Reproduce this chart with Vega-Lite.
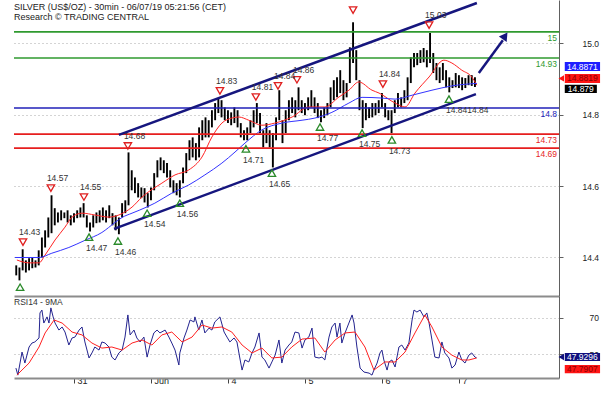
{
"$schema":"https://vega.github.io/schema/vega-lite/v6.json",
"padding":{"left":12,"top":0,"right":0,"bottom":0},
"background":"white",
"spacing":0,
"config":{"view":{"stroke":null},"font":"Liberation Sans","concat":{"spacing":0}},
"datasets":{
"candles":[
{"t":6,"p":14.350,"p2":14.378},{"t":7,"p":14.336,"p2":14.372},{"t":8,"p":14.364,"p2":14.423},{"t":9,"p":14.358,"p2":14.392},{"t":10,"p":14.364,"p2":14.398},
{"t":11,"p":14.370,"p2":14.400},{"t":12,"p":14.372,"p2":14.392},{"t":13,"p":14.378,"p2":14.420},{"t":14,"p":14.400,"p2":14.456},{"t":15,"p":14.428,"p2":14.476},
{"t":16,"p":14.456,"p2":14.512},{"t":17,"p":14.468,"p2":14.574},{"t":18,"p":14.490,"p2":14.538},{"t":19,"p":14.498,"p2":14.526},{"t":20,"p":14.504,"p2":14.532},
{"t":21,"p":14.510,"p2":14.526},{"t":22,"p":14.498,"p2":14.532},{"t":23,"p":14.490,"p2":14.518},{"t":24,"p":14.498,"p2":14.524},{"t":25,"p":14.510,"p2":14.532},
{"t":26,"p":14.512,"p2":14.540},{"t":27,"p":14.512,"p2":14.552},{"t":28,"p":14.484,"p2":14.518},{"t":29,"p":14.473,"p2":14.498},{"t":30,"p":14.484,"p2":14.518},
{"t":31,"p":14.496,"p2":14.526},{"t":32,"p":14.498,"p2":14.532},{"t":33,"p":14.504,"p2":14.540},{"t":34,"p":14.498,"p2":14.532},{"t":35,"p":14.510,"p2":14.546},
{"t":36,"p":14.490,"p2":14.524},{"t":37,"p":14.476,"p2":14.518},{"t":38,"p":14.465,"p2":14.512},{"t":39,"p":14.512,"p2":14.552},{"t":40,"p":14.524,"p2":14.560},
{"t":41,"p":14.546,"p2":14.694},{"t":42,"p":14.588,"p2":14.644},{"t":43,"p":14.580,"p2":14.624},{"t":44,"p":14.568,"p2":14.608},{"t":45,"p":14.566,"p2":14.596},
{"t":46,"p":14.554,"p2":14.594},{"t":47,"p":14.540,"p2":14.580},{"t":48,"p":14.560,"p2":14.596},{"t":49,"p":14.588,"p2":14.636},{"t":50,"p":14.624,"p2":14.672},
{"t":51,"p":14.644,"p2":14.680},{"t":52,"p":14.636,"p2":14.672},{"t":53,"p":14.624,"p2":14.664},{"t":54,"p":14.596,"p2":14.644},{"t":55,"p":14.580,"p2":14.616},
{"t":56,"p":14.574,"p2":14.608},{"t":57,"p":14.568,"p2":14.616},{"t":58,"p":14.608,"p2":14.652},{"t":59,"p":14.636,"p2":14.692},{"t":60,"p":14.672,"p2":14.728},
{"t":61,"p":14.680,"p2":14.736},{"t":62,"p":14.672,"p2":14.720},{"t":63,"p":14.680,"p2":14.764},{"t":64,"p":14.728,"p2":14.784},{"t":65,"p":14.736,"p2":14.792},
{"t":66,"p":14.736,"p2":14.784},{"t":67,"p":14.764,"p2":14.812},{"t":68,"p":14.784,"p2":14.832},{"t":69,"p":14.804,"p2":14.846},{"t":70,"p":14.792,"p2":14.840},
{"t":71,"p":14.784,"p2":14.820},{"t":72,"p":14.776,"p2":14.812},{"t":73,"p":14.770,"p2":14.806},{"t":74,"p":14.776,"p2":14.820},{"t":75,"p":14.764,"p2":14.812},
{"t":76,"p":14.736,"p2":14.776},{"t":77,"p":14.728,"p2":14.756},{"t":78,"p":14.728,"p2":14.764},{"t":79,"p":14.748,"p2":14.784},{"t":80,"p":14.764,"p2":14.812},
{"t":81,"p":14.776,"p2":14.832},{"t":82,"p":14.748,"p2":14.804},{"t":83,"p":14.708,"p2":14.756},{"t":84,"p":14.720,"p2":14.776},{"t":85,"p":14.708,"p2":14.756},
{"t":86,"p":14.652,"p2":14.748},{"t":87,"p":14.728,"p2":14.792},{"t":88,"p":14.784,"p2":14.868},{"t":89,"p":14.720,"p2":14.784},{"t":90,"p":14.748,"p2":14.812},
{"t":91,"p":14.784,"p2":14.840},{"t":92,"p":14.804,"p2":14.848},{"t":93,"p":14.792,"p2":14.840},{"t":94,"p":14.812,"p2":14.876},{"t":95,"p":14.804,"p2":14.840},
{"t":96,"p":14.798,"p2":14.832},{"t":97,"p":14.812,"p2":14.848},{"t":98,"p":14.820,"p2":14.868},{"t":99,"p":14.804,"p2":14.848},{"t":100,"p":14.790,"p2":14.832},
{"t":101,"p":14.778,"p2":14.812},{"t":102,"p":14.790,"p2":14.820},{"t":103,"p":14.798,"p2":14.832},{"t":104,"p":14.820,"p2":14.876},{"t":105,"p":14.840,"p2":14.896},
{"t":106,"p":14.848,"p2":14.904},{"t":107,"p":14.860,"p2":14.924},{"t":108,"p":14.840,"p2":14.896},{"t":109,"p":14.848,"p2":14.888},{"t":110,"p":14.888,"p2":14.988},
{"t":111,"p":14.944,"p2":15.058},{"t":112,"p":14.896,"p2":14.980},{"t":113,"p":14.812,"p2":14.896},{"t":114,"p":14.762,"p2":14.840},{"t":115,"p":14.784,"p2":14.832},
{"t":116,"p":14.790,"p2":14.820},{"t":117,"p":14.792,"p2":14.832},{"t":118,"p":14.798,"p2":14.832},{"t":119,"p":14.804,"p2":14.840},{"t":120,"p":14.820,"p2":14.860},
{"t":121,"p":14.792,"p2":14.832},{"t":122,"p":14.784,"p2":14.812},{"t":123,"p":14.748,"p2":14.812},{"t":124,"p":14.804,"p2":14.840},{"t":125,"p":14.820,"p2":14.860},
{"t":126,"p":14.820,"p2":14.848},{"t":127,"p":14.832,"p2":14.868},{"t":128,"p":14.840,"p2":14.904},{"t":129,"p":14.888,"p2":14.960},{"t":130,"p":14.932,"p2":14.972},
{"t":131,"p":14.938,"p2":14.972},{"t":132,"p":14.944,"p2":14.980},{"t":133,"p":14.946,"p2":14.986},{"t":134,"p":14.932,"p2":14.980},{"t":135,"p":14.944,"p2":15.028},
{"t":136,"p":14.916,"p2":14.972},{"t":137,"p":14.896,"p2":14.944},{"t":138,"p":14.888,"p2":14.932},{"t":139,"p":14.896,"p2":14.944},{"t":140,"p":14.876,"p2":14.924},
{"t":141,"p":14.862,"p2":14.904},{"t":142,"p":14.874,"p2":14.896},{"t":143,"p":14.876,"p2":14.916},{"t":144,"p":14.874,"p2":14.910},{"t":145,"p":14.868,"p2":14.904},
{"t":146,"p":14.874,"p2":14.902},{"t":147,"p":14.882,"p2":14.910},{"t":148,"p":14.880,"p2":14.910},{"t":149,"p":14.877,"p2":14.904}
],
"ma":[
{"t":6.2,"p":14.393,"s":"fast"},{"t":10.0,"p":14.385,"s":"fast"},{"t":13.1,"p":14.385,"s":"fast"},{"t":15.0,"p":14.407,"s":"fast"},{"t":18.1,"p":14.449,"s":"fast"},
{"t":21.2,"p":14.485,"s":"fast"},{"t":23.4,"p":14.513,"s":"fast"},{"t":26.5,"p":14.524,"s":"fast"},{"t":30.5,"p":14.519,"s":"fast"},{"t":34.9,"p":14.513,"s":"fast"},
{"t":38.0,"p":14.519,"s":"fast"},{"t":42.1,"p":14.541,"s":"fast"},{"t":45.2,"p":14.569,"s":"fast"},{"t":51.4,"p":14.608,"s":"fast"},{"t":55.5,"p":14.631,"s":"fast"},
{"t":59.8,"p":14.645,"s":"fast"},{"t":63.9,"p":14.681,"s":"fast"},{"t":67.0,"p":14.737,"s":"fast"},{"t":70.1,"p":14.776,"s":"fast"},{"t":73.2,"p":14.790,"s":"fast"},
{"t":75.4,"p":14.793,"s":"fast"},{"t":78.5,"p":14.784,"s":"fast"},{"t":82.6,"p":14.770,"s":"fast"},{"t":86.6,"p":14.776,"s":"fast"},{"t":92.0,"p":14.793,"s":"fast"},
{"t":97.2,"p":14.821,"s":"fast"},{"t":102.2,"p":14.821,"s":"fast"},{"t":106.6,"p":14.849,"s":"fast"},{"t":109.7,"p":14.868,"s":"fast"},{"t":112.8,"p":14.891,"s":"fast"},
{"t":116.9,"p":14.868,"s":"fast"},{"t":119.1,"p":14.860,"s":"fast"},{"t":124.1,"p":14.832,"s":"fast"},{"t":127.2,"p":14.821,"s":"fast"},{"t":130.3,"p":14.860,"s":"fast"},
{"t":134.7,"p":14.905,"s":"fast"},{"t":139.3,"p":14.952,"s":"fast"},{"t":141.8,"p":14.944,"s":"fast"},{"t":144.9,"p":14.924,"s":"fast"},{"t":148.0,"p":14.905,"s":"fast"},
{"t":149.6,"p":14.882,"s":"fast"},
{"t":5.6,"p":14.400,"s":"slow"},{"t":13.1,"p":14.400,"s":"slow"},{"t":17.1,"p":14.412,"s":"slow"},{"t":22.4,"p":14.428,"s":"slow"},{"t":27.4,"p":14.448,"s":"slow"},
{"t":32.7,"p":14.470,"s":"slow"},{"t":36.8,"p":14.498,"s":"slow"},{"t":39.0,"p":14.512,"s":"slow"},{"t":42.1,"p":14.524,"s":"slow"},{"t":44.3,"p":14.532,"s":"slow"},
{"t":49.2,"p":14.552,"s":"slow"},{"t":54.5,"p":14.580,"s":"slow"},{"t":59.8,"p":14.603,"s":"slow"},{"t":64.8,"p":14.631,"s":"slow"},{"t":70.1,"p":14.664,"s":"slow"},
{"t":74.2,"p":14.695,"s":"slow"},{"t":77.3,"p":14.720,"s":"slow"},{"t":82.6,"p":14.757,"s":"slow"},{"t":88.8,"p":14.776,"s":"slow"},{"t":95.1,"p":14.784,"s":"slow"},
{"t":99.1,"p":14.790,"s":"slow"},{"t":104.4,"p":14.806,"s":"slow"},{"t":109.7,"p":14.832,"s":"slow"},{"t":113.8,"p":14.848,"s":"slow"},{"t":120.0,"p":14.846,"s":"slow"},
{"t":124.1,"p":14.843,"s":"slow"},{"t":129.4,"p":14.854,"s":"slow"},{"t":135.6,"p":14.868,"s":"slow"},{"t":141.8,"p":14.880,"s":"slow"},{"t":149.6,"p":14.887,"s":"slow"}
],
"levels":[
{"t":175.2,"t2":5.3,"p":15.031,"kind":"resistance","label":"15"},
{"t":175.2,"t2":5.3,"p":14.958,"kind":"resistance","label":"14.93"},
{"t":175.2,"t2":5.3,"p":14.818,"kind":"pivot","label":"14.8"},
{"t":175.2,"t2":5.3,"p":14.745,"kind":"support","label":"14.73"},
{"t":175.2,"t2":5.3,"p":14.706,"kind":"support","label":"14.69"}
],
"lines":[
{"t":38.0,"t2":149.6,"p":14.743,"p2":15.112},
{"t":36.5,"t2":149.3,"p":14.480,"p2":14.857},
{"t":150.2,"t2":157.7,"p":14.916,"p2":15.008}
],
"arrowhead":[{"t":158.4,"p":15.020}],
"markers":[
{"t":8.1,"p":14.443,"dir":"high","label":"14.43"},
{"t":16.8,"p":14.594,"dir":"high","label":"14.57"},
{"t":27.1,"p":14.569,"dir":"high","label":"14.55"},
{"t":40.8,"p":14.712,"dir":"high","label":"14.68"},
{"t":69.5,"p":14.866,"dir":"high","label":"14.83"},
{"t":80.7,"p":14.849,"dir":"high","label":"14.81"},
{"t":87.6,"p":14.880,"dir":"high","label":"14.84"},
{"t":93.5,"p":14.897,"dir":"high","label":"14.86"},
{"t":111.0,"p":15.092,"dir":"high","label":""},
{"t":120.3,"p":14.885,"dir":"high","label":"14.84"},
{"t":134.7,"p":15.050,"dir":"high","label":"15.03"},
{"t":7.2,"p":14.317,"dir":"low","label":""},
{"t":28.7,"p":14.457,"dir":"low","label":"14.47"},
{"t":37.7,"p":14.446,"dir":"low","label":"14.46"},
{"t":46.8,"p":14.524,"dir":"low","label":"14.54"},
{"t":57.0,"p":14.552,"dir":"low","label":"14.56"},
{"t":77.6,"p":14.704,"dir":"low","label":"14.71"},
{"t":85.7,"p":14.636,"dir":"low","label":"14.65"},
{"t":100.7,"p":14.765,"dir":"low","label":"14.77"},
{"t":113.8,"p":14.748,"dir":"low","label":"14.75"},
{"t":123.1,"p":14.729,"dir":"low","label":"14.73"},
{"t":140.9,"p":14.843,"dir":"low","label":"14.8414.84"}
],
"pbox":[
{"t":177.0,"t2":188.0,"p":14.922,"p2":14.947,"s":"MA slow"},
{"t":177.0,"t2":188.0,"p":14.888,"p2":14.913,"s":"MA fast"},
{"t":177.0,"t2":187.0,"p":14.860,"p2":14.883,"s":"Last"}
],
"ptext":[
{"t":182.5,"p":14.934,"s":"MA slow","label":"14.8871"},
{"t":182.5,"p":14.901,"s":"MA fast","label":"14.8819"},
{"t":182.0,"p":14.871,"s":"Last","label":"14.879"}
],
"parrow":[{"t":175.9,"p":14.901,"s":"MA fast"}],
"rsi":[
{"t":5.9,"r":42.2,"s":"RSI"},{"t":6.5,"r":38.3,"s":"RSI"},{"t":7.8,"r":51.1,"s":"RSI"},{"t":8.7,"r":45.0,"s":"RSI"},{"t":10.0,"r":53.9,"s":"RSI"},
{"t":10.9,"r":56.1,"s":"RSI"},{"t":11.8,"r":56.7,"s":"RSI"},{"t":13.1,"r":58.9,"s":"RSI"},{"t":13.4,"r":72.8,"s":"RSI"},{"t":14.0,"r":74.4,"s":"RSI"},
{"t":14.6,"r":67.2,"s":"RSI"},{"t":15.6,"r":70.6,"s":"RSI"},{"t":16.2,"r":67.2,"s":"RSI"},{"t":16.8,"r":75.6,"s":"RSI"},{"t":17.5,"r":70.6,"s":"RSI"},
{"t":18.1,"r":67.2,"s":"RSI"},{"t":19.3,"r":63.3,"s":"RSI"},{"t":20.3,"r":65.0,"s":"RSI"},{"t":21.2,"r":62.2,"s":"RSI"},{"t":22.4,"r":55.0,"s":"RSI"},
{"t":23.4,"r":58.9,"s":"RSI"},{"t":24.3,"r":59.4,"s":"RSI"},{"t":25.6,"r":63.3,"s":"RSI"},{"t":26.5,"r":65.0,"s":"RSI"},{"t":27.4,"r":56.7,"s":"RSI"},
{"t":28.7,"r":47.8,"s":"RSI"},{"t":29.6,"r":50.6,"s":"RSI"},{"t":30.5,"r":53.9,"s":"RSI"},{"t":31.8,"r":52.2,"s":"RSI"},{"t":32.7,"r":56.7,"s":"RSI"},
{"t":33.7,"r":56.1,"s":"RSI"},{"t":34.9,"r":53.9,"s":"RSI"},{"t":35.8,"r":48.3,"s":"RSI"},{"t":36.8,"r":46.7,"s":"RSI"},{"t":38.0,"r":50.6,"s":"RSI"},
{"t":39.0,"r":52.2,"s":"RSI"},{"t":39.9,"r":59.4,"s":"RSI"},{"t":40.8,"r":71.7,"s":"RSI"},{"t":41.5,"r":60.6,"s":"RSI"},{"t":42.7,"r":63.3,"s":"RSI"},
{"t":43.6,"r":58.9,"s":"RSI"},{"t":44.6,"r":56.7,"s":"RSI"},{"t":45.8,"r":59.4,"s":"RSI"},{"t":46.8,"r":48.3,"s":"RSI"},{"t":47.7,"r":55.0,"s":"RSI"},
{"t":48.9,"r":61.7,"s":"RSI"},{"t":49.9,"r":63.3,"s":"RSI"},{"t":50.8,"r":61.7,"s":"RSI"},{"t":52.4,"r":63.3,"s":"RSI"},{"t":53.6,"r":59.4,"s":"RSI"},
{"t":54.5,"r":56.1,"s":"RSI"},{"t":55.5,"r":52.2,"s":"RSI"},{"t":56.7,"r":43.9,"s":"RSI"},{"t":57.0,"r":50.6,"s":"RSI"},{"t":58.3,"r":58.9,"s":"RSI"},
{"t":59.2,"r":63.3,"s":"RSI"},{"t":60.2,"r":68.9,"s":"RSI"},{"t":61.4,"r":67.8,"s":"RSI"},{"t":61.7,"r":70.6,"s":"RSI"},{"t":62.9,"r":63.3,"s":"RSI"},
{"t":63.9,"r":68.9,"s":"RSI"},{"t":64.8,"r":61.7,"s":"RSI"},{"t":66.1,"r":64.4,"s":"RSI"},{"t":67.0,"r":63.3,"s":"RSI"},{"t":67.9,"r":67.8,"s":"RSI"},
{"t":69.5,"r":70.6,"s":"RSI"},{"t":70.8,"r":62.2,"s":"RSI"},{"t":71.7,"r":59.4,"s":"RSI"},{"t":72.6,"r":56.7,"s":"RSI"},{"t":73.9,"r":58.9,"s":"RSI"},
{"t":74.8,"r":56.7,"s":"RSI"},{"t":75.7,"r":47.8,"s":"RSI"},{"t":76.4,"r":41.1,"s":"RSI"},{"t":77.3,"r":46.7,"s":"RSI"},{"t":78.5,"r":45.6,"s":"RSI"},
{"t":79.5,"r":50.6,"s":"RSI"},{"t":80.4,"r":53.9,"s":"RSI"},{"t":81.7,"r":61.7,"s":"RSI"},{"t":82.6,"r":48.3,"s":"RSI"},{"t":83.5,"r":46.7,"s":"RSI"},
{"t":84.8,"r":42.2,"s":"RSI"},{"t":85.7,"r":45.6,"s":"RSI"},{"t":86.7,"r":49.4,"s":"RSI"},{"t":87.9,"r":57.8,"s":"RSI"},{"t":88.8,"r":45.0,"s":"RSI"},
{"t":89.8,"r":52.2,"s":"RSI"},{"t":91.0,"r":55.0,"s":"RSI"},{"t":91.9,"r":56.7,"s":"RSI"},{"t":92.9,"r":62.2,"s":"RSI"},{"t":94.1,"r":61.7,"s":"RSI"},
{"t":95.1,"r":53.3,"s":"RSI"},{"t":96.0,"r":57.8,"s":"RSI"},{"t":97.2,"r":59.4,"s":"RSI"},{"t":98.2,"r":64.4,"s":"RSI"},{"t":99.1,"r":48.3,"s":"RSI"},
{"t":100.4,"r":47.8,"s":"RSI"},{"t":101.3,"r":48.3,"s":"RSI"},{"t":102.2,"r":46.7,"s":"RSI"},{"t":103.5,"r":59.4,"s":"RSI"},{"t":104.4,"r":65.0,"s":"RSI"},
{"t":105.4,"r":67.2,"s":"RSI"},{"t":106.0,"r":59.4,"s":"RSI"},{"t":106.9,"r":67.2,"s":"RSI"},{"t":107.5,"r":56.1,"s":"RSI"},{"t":108.5,"r":61.7,"s":"RSI"},
{"t":109.7,"r":67.2,"s":"RSI"},{"t":110.7,"r":71.7,"s":"RSI"},{"t":111.3,"r":67.2,"s":"RSI"},{"t":112.2,"r":53.9,"s":"RSI"},{"t":113.2,"r":42.2,"s":"RSI"},
{"t":114.4,"r":40.0,"s":"RSI"},{"t":116.0,"r":39.4,"s":"RSI"},{"t":116.9,"r":38.3,"s":"RSI"},{"t":117.5,"r":41.1,"s":"RSI"},{"t":118.5,"r":45.0,"s":"RSI"},
{"t":119.4,"r":50.6,"s":"RSI"},{"t":120.0,"r":52.2,"s":"RSI"},{"t":120.6,"r":46.7,"s":"RSI"},{"t":121.6,"r":41.1,"s":"RSI"},{"t":122.2,"r":45.6,"s":"RSI"},
{"t":123.1,"r":46.7,"s":"RSI"},{"t":124.1,"r":42.8,"s":"RSI"},{"t":125.3,"r":53.9,"s":"RSI"},{"t":126.2,"r":55.0,"s":"RSI"},{"t":127.2,"r":52.2,"s":"RSI"},
{"t":128.4,"r":56.1,"s":"RSI"},{"t":129.4,"r":68.9,"s":"RSI"},{"t":130.0,"r":74.4,"s":"RSI"},{"t":130.9,"r":73.3,"s":"RSI"},{"t":131.9,"r":74.4,"s":"RSI"},
{"t":133.1,"r":70.6,"s":"RSI"},{"t":134.0,"r":72.8,"s":"RSI"},{"t":134.7,"r":67.2,"s":"RSI"},{"t":135.6,"r":57.8,"s":"RSI"},{"t":136.5,"r":48.3,"s":"RSI"},
{"t":137.8,"r":47.8,"s":"RSI"},{"t":138.7,"r":56.7,"s":"RSI"},{"t":139.6,"r":50.6,"s":"RSI"},{"t":140.9,"r":47.8,"s":"RSI"},{"t":141.8,"r":42.2,"s":"RSI"},
{"t":142.8,"r":43.9,"s":"RSI"},{"t":144.0,"r":51.1,"s":"RSI"},{"t":144.9,"r":46.7,"s":"RSI"},{"t":145.9,"r":45.0,"s":"RSI"},{"t":147.1,"r":49.4,"s":"RSI"},
{"t":148.0,"r":50.6,"s":"RSI"},{"t":149.0,"r":48.3,"s":"RSI"},{"t":149.5,"r":47.9,"s":"RSI"},
{"t":6.2,"r":38.3,"s":"MA"},{"t":10.0,"r":45.0,"s":"MA"},{"t":13.1,"r":53.9,"s":"MA"},{"t":15.0,"r":61.7,"s":"MA"},{"t":17.8,"r":68.9,"s":"MA"},
{"t":20.3,"r":67.2,"s":"MA"},{"t":23.4,"r":62.2,"s":"MA"},{"t":26.5,"r":60.6,"s":"MA"},{"t":29.6,"r":56.1,"s":"MA"},{"t":32.7,"r":53.3,"s":"MA"},
{"t":35.8,"r":53.9,"s":"MA"},{"t":39.0,"r":52.2,"s":"MA"},{"t":42.1,"r":56.1,"s":"MA"},{"t":45.2,"r":57.8,"s":"MA"},{"t":48.3,"r":55.0,"s":"MA"},
{"t":51.4,"r":60.6,"s":"MA"},{"t":54.5,"r":62.2,"s":"MA"},{"t":57.7,"r":56.7,"s":"MA"},{"t":60.8,"r":59.4,"s":"MA"},{"t":63.9,"r":66.1,"s":"MA"},
{"t":67.0,"r":64.4,"s":"MA"},{"t":70.1,"r":65.0,"s":"MA"},{"t":73.2,"r":62.2,"s":"MA"},{"t":76.4,"r":55.0,"s":"MA"},{"t":79.5,"r":50.6,"s":"MA"},
{"t":82.6,"r":53.3,"s":"MA"},{"t":85.7,"r":47.8,"s":"MA"},{"t":88.8,"r":48.3,"s":"MA"},{"t":91.9,"r":53.9,"s":"MA"},{"t":95.1,"r":58.3,"s":"MA"},
{"t":99.1,"r":58.9,"s":"MA"},{"t":102.2,"r":51.1,"s":"MA"},{"t":105.4,"r":57.8,"s":"MA"},{"t":108.5,"r":61.7,"s":"MA"},{"t":111.6,"r":62.2,"s":"MA"},
{"t":114.7,"r":53.9,"s":"MA"},{"t":117.5,"r":41.1,"s":"MA"},{"t":120.9,"r":45.6,"s":"MA"},{"t":124.1,"r":45.6,"s":"MA"},{"t":127.2,"r":51.1,"s":"MA"},
{"t":130.3,"r":61.7,"s":"MA"},{"t":133.4,"r":71.7,"s":"MA"},{"t":135.6,"r":65.0,"s":"MA"},{"t":138.7,"r":53.9,"s":"MA"},{"t":141.8,"r":49.4,"s":"MA"},
{"t":144.9,"r":46.7,"s":"MA"},{"t":147.1,"r":46.7,"s":"MA"},{"t":149.5,"r":47.8,"s":"MA"}
],
"rbox":[
{"t":177.0,"t2":188.0,"r":46.1,"r2":50.6,"s":"RSI"},
{"t":177.0,"t2":188.0,"r":39.4,"r2":43.9,"s":"MA"}
],
"rtext":[
{"t":182.5,"r":48.35,"s":"RSI","label":"47.9296"},
{"t":182.5,"r":41.65,"s":"MA","label":"47.7907"}
],
"rarrow":[{"t":175.9,"r":48.35,"s":"RSI"}]
},
"vconcat":[
{
"width":545,"height":296,
"title":{"text":"SILVER (US$/OZ) - 30min - 06/07/19 05:21:56 (CET)","subtitle":"Research © TRADING CENTRAL","anchor":"start","frame":"group","offset":-22,"fontSize":9,"fontWeight":"normal","font":"Liberation Sans","color":"#1a1a1a","subtitleFont":"Liberation Sans","subtitleFontSize":9,"subtitleColor":"#1a1a1a","subtitlePadding":1},
"resolve":{"scale":{"color":"independent"}},
"encoding":{
"x":{"field":"t","type":"quantitative","scale":{"domain":[5.3,175.2],"nice":false,"zero":false},"axis":{"labels":false,"ticks":false,"grid":false,"domain":true,"domainColor":"#8c8c8c","domainWidth":2,"title":null,"minExtent":0,"maxExtent":2}},
"y":{"field":"p","type":"quantitative","scale":{"domain":[14.2923,15.1203],"nice":false,"zero":false},"axis":{"orient":"right","values":[14.4,14.6,14.8,15.0],"format":".1f","title":null,"grid":true,"gridDash":[1,3],"gridColor":"#a8a8a8","domainColor":"#606060","tickColor":"#606060","tickSize":4,"labelAlign":"right","labelPadding":35.5,"labelFontSize":8.5,"labelColor":"#222","labelFlush":false,"labelOverlap":false}}
},
"layer":[
{"data":{"name":"candles"},"mark":{"type":"rule","color":"#000","strokeWidth":1.9}, "encoding":{"y2":{"field":"p2"}}},
{"data":{"name":"ma"},"mark":{"type":"line","strokeWidth":1,"interpolate":"monotone"},"encoding":{"color":{"field":"s","type":"nominal","scale":{"domain":["fast","slow"],"range":["#ff2424","#3434ff"]},"legend":null}}},
{"data":{"name":"levels"},"mark":{"type":"rule","strokeWidth":1.6},"encoding":{"x2":{"field":"t2"},"color":{"field":"kind","type":"nominal","scale":{"domain":["resistance","pivot","support"],"range":["#2f9a2f","#2121b8","#e61e1e"]},"legend":null}}},
{"data":{"name":"levels"},"mark":{"type":"text","align":"right","baseline":"middle","dx":-2,"dy":6,"fontSize":8.5},"encoding":{"text":{"field":"label"},"color":{"field":"kind","type":"nominal","scale":{"domain":["resistance","pivot","support"],"range":["#2f9a2f","#2121b8","#e61e1e"]},"legend":null}}},
{"data":{"name":"lines"},"mark":{"type":"rule","color":"#16167e","strokeWidth":2.5},"encoding":{"x2":{"field":"t2"},"y2":{"field":"p2"}}},
{"data":{"name":"arrowhead"},"mark":{"type":"point","shape":"triangle-up","angle":35,"filled":true,"size":90,"color":"#16167e","opacity":1}},
{"data":{"name":"markers"},"transform":[{"filter":"datum.dir=='high'"}],"mark":{"type":"point","shape":"triangle-down","filled":false,"size":55,"strokeWidth":1.3,"color":"#e02020","opacity":1}},
{"data":{"name":"markers"},"transform":[{"filter":"datum.dir=='low'"}],"mark":{"type":"point","shape":"triangle-up","filled":false,"size":55,"strokeWidth":1.3,"color":"#2a8a2a","opacity":1}},
{"data":{"name":"markers"},"transform":[{"filter":"datum.dir=='high' && datum.label!=''"}],"mark":{"type":"text","align":"left","baseline":"middle","dx":-4,"dy":-10,"fontSize":8.5,"color":"#333"},"encoding":{"text":{"field":"label"}}},
{"data":{"name":"markers"},"transform":[{"filter":"datum.dir=='low' && datum.label!=''"}],"mark":{"type":"text","align":"left","baseline":"middle","dx":-3,"dy":11,"fontSize":8.5,"color":"#333"},"encoding":{"text":{"field":"label"}}},
{"data":{"name":"pbox"},"mark":{"type":"rect"},"encoding":{"x2":{"field":"t2"},"y2":{"field":"p2"},"color":{"field":"s","type":"nominal","scale":{"domain":["MA slow","MA fast","Last"],"range":["#1e1eff","#ff1414","#000000"]},"legend":null}}},
{"data":{"name":"parrow"},"mark":{"type":"point","shape":"triangle-left","filled":true,"size":40,"color":"#ff1414","opacity":1}},
{"data":{"name":"ptext"},"mark":{"type":"text","align":"center","baseline":"middle","fontSize":8.5},"encoding":{"text":{"field":"label"},"color":{"field":"s","type":"nominal","scale":{"domain":["MA slow","MA fast","Last"],"range":["#ffffff","#8a0000","#ffffff"]},"legend":null}}}
]
},
{
"width":545,"height":82,
"title":{"text":"RSI14 - 9MA","anchor":"start","frame":"group","offset":-10,"fontSize":8.5,"fontWeight":"normal","font":"Liberation Sans","color":"#333"},
"resolve":{"scale":{"color":"independent"}},
"encoding":{
"x":{"field":"t","type":"quantitative","scale":{"domain":[5.3,175.2],"nice":false,"zero":false},"axis":{"values":[24,48,72,96,120,144],"labelExpr":"datum.value==24?'31':datum.value==48?'Jun':datum.value==72?'4':datum.value==96?'5':datum.value==120?'6':'7'","grid":false,"domainColor":"#8c8c8c","domainWidth":2,"tickColor":"#444","tickSize":5,"labelAlign":"left","labelOffset":3,"labelPadding":-7,"labelBaseline":"top","labelFontSize":9,"labelColor":"#222","labelFlush":false,"labelOverlap":false,"title":null}},
"y":{"field":"r","type":"quantitative","scale":{"domain":[36.7,82.2],"nice":false,"zero":false},"axis":{"orient":"right","values":[50,70],"title":null,"grid":true,"gridDash":[1,3],"gridColor":"#a8a8a8","domainColor":"#606060","tickColor":"#606060","tickSize":4,"labelAlign":"right","labelPadding":35.5,"labelFontSize":8.5,"labelColor":"#222","labelFlush":false,"labelOverlap":false}}
},
"layer":[
{"data":{"name":"rsi"},"mark":{"type":"line","strokeWidth":1},"encoding":{"color":{"field":"s","type":"nominal","scale":{"domain":["RSI","MA"],"range":["#23238f","#ff2020"]},"legend":null},"order":{"field":"t"}}},
{"data":{"name":"rbox"},"mark":{"type":"rect"},"encoding":{"x2":{"field":"t2"},"y2":{"field":"r2"},"color":{"field":"s","type":"nominal","scale":{"domain":["RSI","MA"],"range":["#10107e","#ff1414"]},"legend":null}}},
{"data":{"name":"rarrow"},"mark":{"type":"point","shape":"triangle-left","filled":true,"size":40,"color":"#10107e","opacity":1}},
{"data":{"name":"rtext"},"mark":{"type":"text","align":"center","baseline":"middle","fontSize":8.5},"encoding":{"text":{"field":"label"},"color":{"field":"s","type":"nominal","scale":{"domain":["RSI","MA"],"range":["#ffffff","#8a0000"]},"legend":null}}}
]
}
]
}
